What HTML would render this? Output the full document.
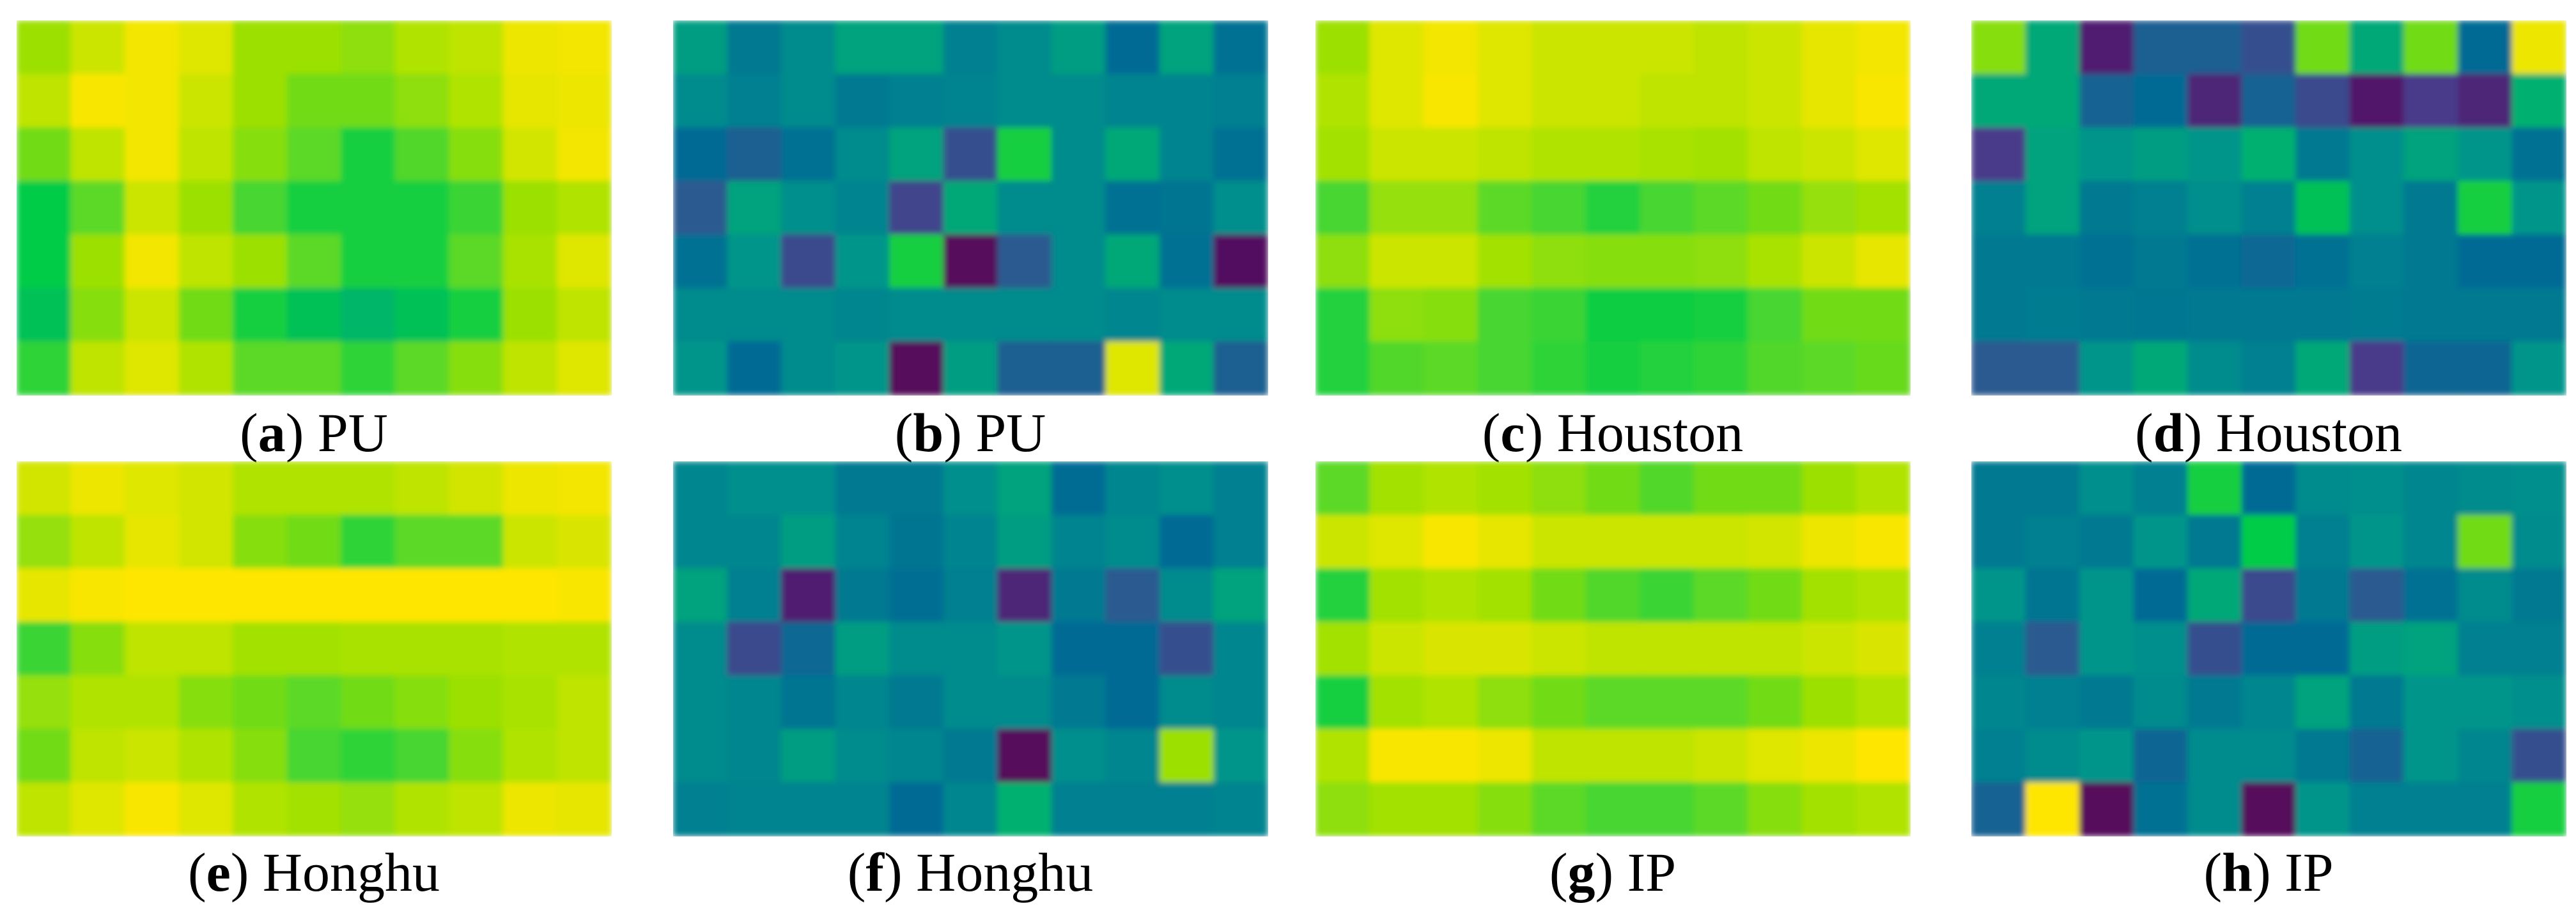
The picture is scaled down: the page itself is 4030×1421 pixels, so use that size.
<!DOCTYPE html>
<html><head><meta charset="utf-8"><style>
html,body{margin:0;padding:0;background:#fff;}
svg{display:block;}
</style></head><body>
<svg id="fig" width="4030" height="1421" viewBox="0 0 4030 1421" xmlns="http://www.w3.org/2000/svg">
<defs>
<filter id="blur" x="0" y="0" width="1" height="1"><feGaussianBlur stdDeviation="4.5" edgeMode="duplicate"/></filter>
</defs>
</svg>
<script>
const panelLetters = ["a","b","c","d","e","f","g","h"];
const panelNames = ["PU","PU","Houston","Houston","Honghu","Honghu","IP","IP"];
const gridA = [
[0.85,0.92,0.98,0.95,0.85,0.85,0.83,0.88,0.9,0.97,0.98],
[0.9,0.99,0.98,0.92,0.85,0.8,0.8,0.83,0.88,0.96,0.97],
[0.8,0.9,0.98,0.9,0.82,0.78,0.72,0.77,0.82,0.93,0.98],
[0.7,0.78,0.92,0.85,0.76,0.72,0.72,0.72,0.75,0.85,0.88],
[0.7,0.85,0.98,0.9,0.85,0.78,0.72,0.72,0.78,0.87,0.95],
[0.68,0.82,0.92,0.8,0.72,0.68,0.66,0.68,0.72,0.85,0.9],
[0.74,0.9,0.95,0.88,0.78,0.78,0.74,0.78,0.82,0.9,0.95]];
const gridB = [
[0.58,0.42,0.5,0.6,0.6,0.45,0.5,0.58,0.35,0.6,0.38],
[0.5,0.45,0.5,0.42,0.45,0.47,0.5,0.5,0.47,0.47,0.45],
[0.35,0.28,0.38,0.5,0.6,0.22,0.72,0.5,0.62,0.47,0.38],
[0.25,0.6,0.52,0.47,0.18,0.62,0.5,0.5,0.38,0.4,0.52],
[0.38,0.55,0.2,0.55,0.72,0.02,0.25,0.5,0.62,0.38,0.03],
[0.5,0.5,0.5,0.48,0.5,0.5,0.5,0.5,0.48,0.5,0.5],
[0.55,0.35,0.5,0.55,0.02,0.58,0.28,0.28,0.95,0.62,0.28]];
const gridC = [
[0.85,0.95,0.98,0.95,0.92,0.92,0.92,0.9,0.92,0.96,0.98],
[0.88,0.95,0.99,0.95,0.92,0.92,0.9,0.9,0.92,0.96,0.99],
[0.86,0.92,0.92,0.9,0.88,0.88,0.87,0.86,0.9,0.92,0.95],
[0.76,0.84,0.84,0.78,0.76,0.73,0.76,0.78,0.8,0.84,0.86],
[0.83,0.92,0.92,0.86,0.83,0.82,0.82,0.83,0.87,0.92,0.96],
[0.73,0.83,0.82,0.76,0.75,0.71,0.71,0.72,0.76,0.8,0.8],
[0.73,0.77,0.78,0.76,0.74,0.72,0.73,0.74,0.77,0.78,0.79]];
const gridD = [
[0.82,0.62,0.08,0.28,0.28,0.22,0.8,0.62,0.8,0.35,0.97],
[0.62,0.62,0.3,0.35,0.1,0.3,0.2,0.06,0.15,0.1,0.65],
[0.15,0.6,0.55,0.58,0.55,0.65,0.42,0.52,0.6,0.55,0.38],
[0.45,0.6,0.42,0.45,0.52,0.45,0.68,0.52,0.42,0.72,0.55],
[0.42,0.42,0.38,0.42,0.38,0.33,0.38,0.45,0.42,0.35,0.35],
[0.42,0.43,0.42,0.41,0.42,0.42,0.42,0.43,0.42,0.42,0.42],
[0.25,0.25,0.55,0.62,0.5,0.45,0.62,0.15,0.32,0.32,0.55]];
const gridE = [
[0.93,0.97,0.95,0.93,0.88,0.88,0.88,0.9,0.93,0.97,0.98],
[0.84,0.9,0.96,0.93,0.82,0.8,0.74,0.78,0.78,0.92,0.94],
[0.96,0.99,1,1,1,1,1,1,1,1,0.99],
[0.75,0.82,0.9,0.9,0.86,0.86,0.87,0.87,0.87,0.88,0.88],
[0.84,0.88,0.88,0.82,0.8,0.78,0.8,0.82,0.85,0.87,0.9],
[0.8,0.9,0.92,0.88,0.82,0.76,0.74,0.76,0.82,0.88,0.9],
[0.9,0.95,0.99,0.95,0.88,0.86,0.84,0.88,0.9,0.97,0.96]];
const gridF = [
[0.48,0.52,0.52,0.42,0.42,0.52,0.6,0.36,0.48,0.52,0.45],
[0.48,0.48,0.58,0.47,0.4,0.47,0.58,0.47,0.5,0.35,0.45],
[0.6,0.45,0.08,0.42,0.37,0.45,0.1,0.42,0.25,0.5,0.6],
[0.5,0.2,0.33,0.58,0.5,0.5,0.55,0.35,0.35,0.22,0.48],
[0.5,0.48,0.4,0.48,0.42,0.5,0.5,0.42,0.35,0.5,0.48],
[0.5,0.48,0.58,0.5,0.48,0.42,0.02,0.52,0.48,0.85,0.55],
[0.45,0.47,0.47,0.47,0.35,0.48,0.65,0.45,0.45,0.45,0.47]];
const gridG = [
[0.78,0.86,0.88,0.86,0.83,0.8,0.77,0.8,0.8,0.85,0.88],
[0.92,0.95,0.99,0.96,0.92,0.92,0.92,0.92,0.93,0.97,0.99],
[0.73,0.86,0.88,0.86,0.8,0.77,0.75,0.78,0.8,0.86,0.88],
[0.86,0.92,0.94,0.94,0.92,0.9,0.9,0.9,0.9,0.92,0.94],
[0.72,0.86,0.88,0.83,0.8,0.78,0.78,0.78,0.8,0.85,0.88],
[0.88,0.99,0.99,0.97,0.9,0.9,0.9,0.92,0.95,0.97,1],
[0.83,0.86,0.86,0.82,0.78,0.76,0.76,0.78,0.82,0.86,0.88]];
const gridH = [
[0.42,0.42,0.52,0.45,0.72,0.35,0.5,0.52,0.48,0.5,0.52],
[0.42,0.45,0.42,0.55,0.42,0.7,0.45,0.55,0.48,0.8,0.5],
[0.55,0.4,0.55,0.35,0.62,0.2,0.42,0.25,0.38,0.5,0.42],
[0.45,0.25,0.55,0.52,0.22,0.35,0.35,0.58,0.6,0.45,0.45],
[0.48,0.45,0.42,0.5,0.42,0.48,0.6,0.42,0.55,0.55,0.52],
[0.45,0.5,0.55,0.32,0.5,0.5,0.42,0.3,0.55,0.48,0.22],
[0.3,1.0,0.02,0.38,0.5,0.02,0.55,0.45,0.45,0.45,0.72]];
const grids = [gridA,gridB,gridC,gridD,gridE,gridF,gridG,gridH];

const colX = [26,1053,2058,3084];
const panelW = 930;
const rowY = [32,722];
const panelH = 586;
const labelY = [706,1394];

const stops = [[0,[85,0,85]],[0.15,[74,58,138]],[0.25,[42,90,144]],[0.35,[0,106,148]],[0.45,[0,128,144]],[0.55,[0,149,138]],[0.65,[0,176,112]],[0.7,[0,204,70]],[0.76,[70,214,50]],[0.82,[135,222,10]],[0.9,[190,228,0]],[0.96,[230,230,0]],[1,[255,230,0]]];
function cmap(v){
  v=Math.max(0,Math.min(1,v));
  for(let i=1;i<stops.length;i++){
    if(v<=stops[i][0]){
      const [a,ca]=stops[i-1],[b,cb]=stops[i];
      const t=(v-a)/(b-a);
      return 'rgb('+ca.map((c,k)=>Math.round(c+(cb[k]-c)*t)).join(',')+')';
    }
  }
  return 'rgb(255,230,0)';
}
const NS="http://www.w3.org/2000/svg";
const svg=document.getElementById('fig');
grids.forEach((g,p)=>{
  const x0=colX[p%4], y0=rowY[Math.floor(p/4)];
  const rows=g.length, cols=g[0].length;
  const cw=panelW/cols, ch=panelH/rows;
  const grp=document.createElementNS(NS,'g');
  
  
  grp.setAttribute('filter','url(#blur)');
  g.forEach((row,r)=>row.forEach((v,c)=>{
    const rect=document.createElementNS(NS,'rect');
    
    
    rect.setAttribute('x',(x0+c*cw).toFixed(2));
    rect.setAttribute('y',(y0+r*ch).toFixed(2));
    rect.setAttribute('width',(cw+0.8).toFixed(2));
    rect.setAttribute('height',(ch+0.8).toFixed(2));
    rect.setAttribute('fill',cmap(v));
    grp.appendChild(rect);
  }));
  svg.appendChild(grp);
  const t=document.createElementNS(NS,'text');
  
  
  t.setAttribute('x',x0+panelW/2);
  t.setAttribute('y',labelY[Math.floor(p/4)]);
  t.setAttribute('text-anchor','middle');
  t.setAttribute('font-family','"Liberation Serif", serif');
  t.setAttribute('font-size','86');
  t.setAttribute('fill','#000');
  const b=document.createElementNS(NS,'tspan');
  b.setAttribute('font-weight','bold');
  b.textContent=panelLetters[p];
  t.appendChild(document.createTextNode('('));
  t.appendChild(b);
  t.appendChild(document.createTextNode(') '+panelNames[p]));
  svg.appendChild(t);
});
</script>
</body></html>
